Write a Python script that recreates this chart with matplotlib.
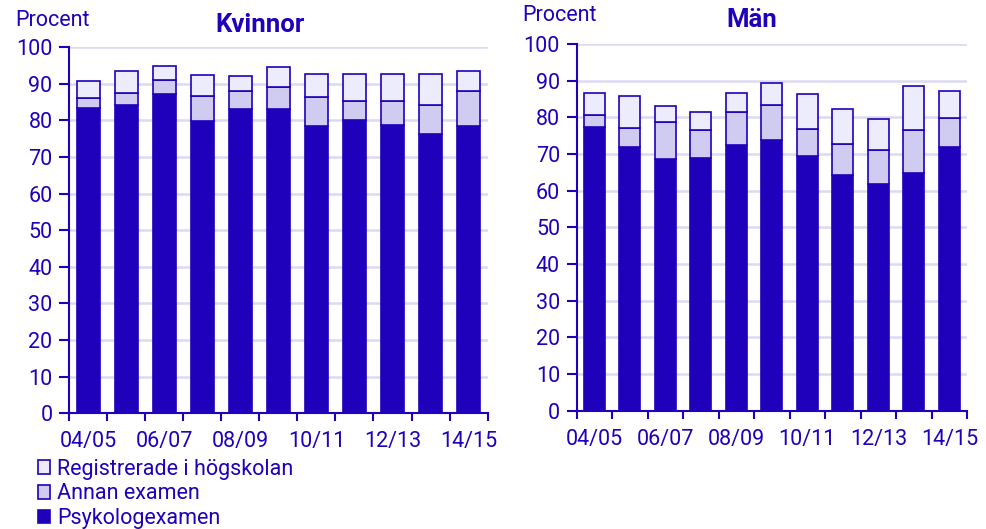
import numpy as np
import matplotlib.pyplot as plt
from matplotlib.patches import Patch

plt.rcParams['font.family'] = ['Roboto', 'DejaVu Sans']

years = ['04/05', '05/06', '06/07', '07/08', '08/09', '09/10',
         '10/11', '11/12', '12/13', '13/14', '14/15']

# kvinnor: psykologexamen, annan examen, registrerade i högskolan
kv_psyk = [83.4, 84.2, 87.3, 79.8, 83.2, 83.0, 78.5, 80.0, 78.6, 76.3, 78.4]
kv_annan = [2.6, 3.2, 3.6, 6.8, 4.8, 6.0, 7.9, 5.4, 6.6, 7.8, 9.5]
kv_reg = [4.8, 6.0, 3.85, 5.9, 4.0, 5.6, 6.2, 7.3, 7.5, 8.5, 5.7]

# män
man_psyk = [77.2, 72.0, 68.6, 69.0, 72.3, 73.8, 69.3, 64.2, 61.7, 64.8, 72.0]
man_annan = [3.5, 5.1, 10.1, 7.6, 9.1, 9.6, 7.5, 8.6, 9.3, 11.7, 7.9]
man_reg = [6.0, 8.8, 4.4, 4.8, 5.3, 5.9, 9.4, 9.5, 8.5, 12.0, 7.2]

dark = '#1f00bb'
mid = '#d0cbf0'
light = '#ececfc'
grid = '#dcdaf2'

fig = plt.figure(figsize=(9.87, 5.29), dpi=100)
ax1 = fig.add_axes([0.0702, 0.219, 0.4238, 0.692])
ax2 = fig.add_axes([0.5843, 0.224, 0.3955, 0.693])


def stack(ax, psyk, annan, reg):
    x = np.arange(len(years))
    psyk = np.array(psyk)
    annan = np.array(annan)
    reg = np.array(reg)
    ax.bar(x, psyk, 0.59, color=dark, edgecolor=dark, linewidth=1.2, zorder=3)
    ax.bar(x, annan, 0.59, bottom=psyk, color=mid, edgecolor=dark, linewidth=1.2, zorder=3)
    ax.bar(x, reg, 0.59, bottom=psyk + annan, color=light, edgecolor=dark, linewidth=1.2, zorder=3)

    ax.set_xlim(-0.5, 10.5)
    ax.set_ylim(0, 100)
    ax.set_yticks(np.arange(0, 101, 10))
    ax.yaxis.grid(True, color=grid, linewidth=1.8, zorder=0)
    ax.set_axisbelow(True)

    # ticks between the bars, labels on every other bar
    ax.set_xticks(np.arange(-0.5, 11, 1))
    ax.set_xticklabels([])
    ax.set_xticks(x[::2], minor=True)
    ax.set_xticklabels(years[::2], minor=True)
    ax.tick_params(axis='x', which='major', length=6, width=1.5, color=dark)
    ax.tick_params(axis='x', which='minor', length=0, pad=13, labelsize=15.5, labelcolor=dark)
    ax.tick_params(axis='y', length=7, width=1.5, color=dark, labelsize=15.5, labelcolor=dark, pad=5)

    for s in ['top', 'right']:
        ax.spines[s].set_visible(False)
    for s in ['left', 'bottom']:
        ax.spines[s].set_color(dark)
        ax.spines[s].set_linewidth(1.5)


stack(ax1, kv_psyk, kv_annan, kv_reg)
stack(ax2, man_psyk, man_annan, man_reg)

fig.text(0.015, 0.962, 'Procent', fontsize=15.5, color=dark, va='center')
fig.text(0.529, 0.970, 'Procent', fontsize=15.5, color=dark, va='center')
fig.text(0.2635, 0.953, 'Kvinnor', fontsize=18.5, fontweight='bold', color=dark, ha='center', va='center')
fig.text(0.762, 0.962, 'Män', fontsize=18.5, fontweight='bold', color=dark, ha='center', va='center')

handles = [Patch(facecolor=light, edgecolor=dark, linewidth=1.2),
           Patch(facecolor=mid, edgecolor=dark, linewidth=1.2),
           Patch(facecolor=dark, edgecolor=dark, linewidth=1.2)]
labels = ['Registrerade i högskolan', 'Annan examen', 'Psykologexamen']
fig.legend(handles, labels, loc='upper left', bbox_to_anchor=(0.038, 0.133),
           frameon=False, fontsize=15.5, labelcolor=dark, handlelength=0.6,
           handleheight=0.6, handletextpad=0.3, labelspacing=0.17,
           borderaxespad=0, borderpad=0)

fig.savefig('out.png', dpi=100)
